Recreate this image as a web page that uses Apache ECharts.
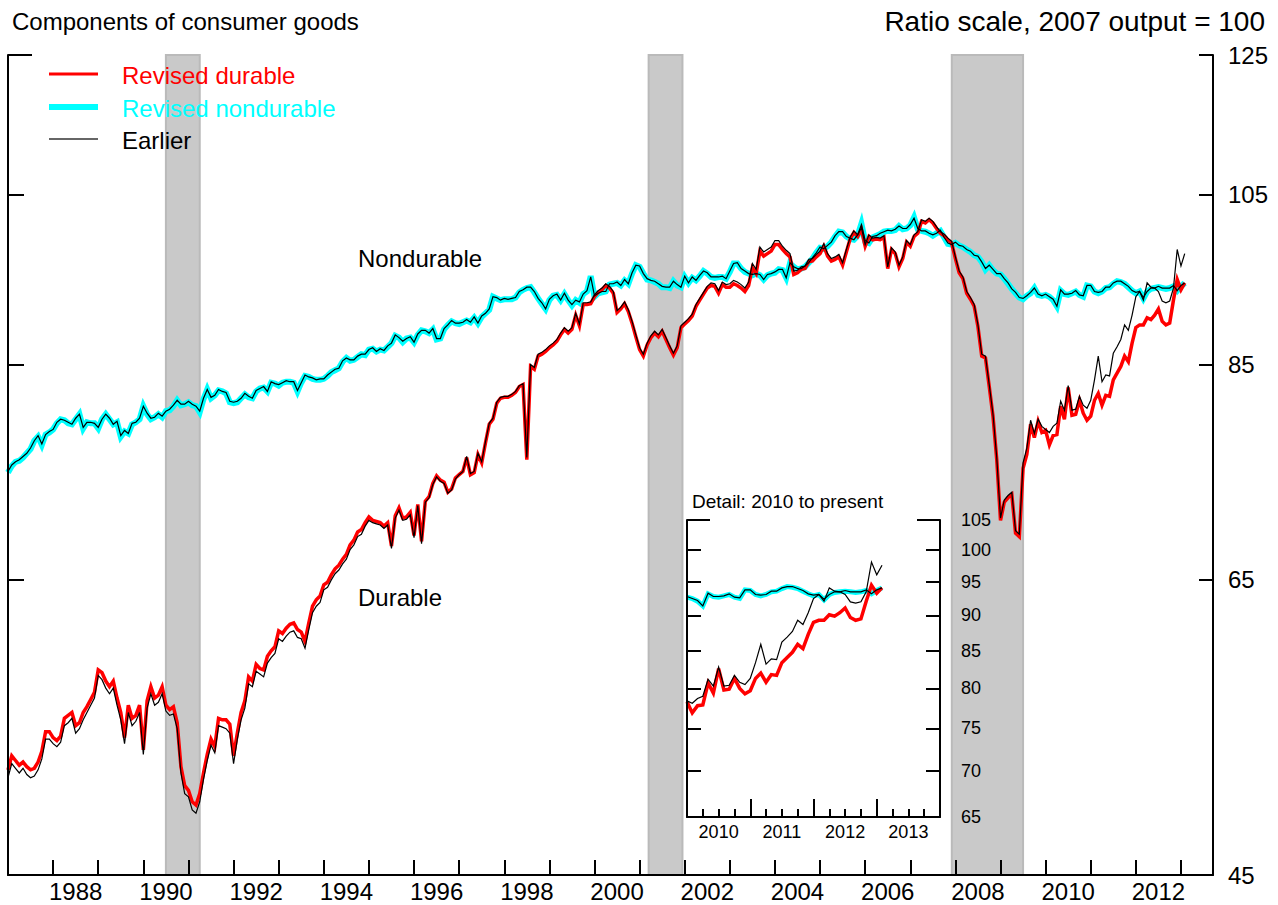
<!DOCTYPE html>
<html>
<head>
<meta charset="utf-8">
<script src="https://cdn.jsdelivr.net/npm/echarts@6/dist/echarts.min.js"></script>
<style>
html,body{margin:0;padding:0;background:#fff;}
#chart{width:1278px;height:905px;}
</style>
</head>
<body>
<div id="chart"></div>
<script>
// Monthly data, first value = January 1987, last value = February 2013 (index, 2007 output = 100)
const START_YEAR = 1987;

const durableRevised = [
  51.3, 52.2, 51.9, 51.6, 51.8, 51.5, 51.3, 51.4, 51.8, 52.5, 53.8, 53.8, // 1987
  53.4, 53.2, 53.5, 54.7, 54.9, 55.1, 54.2, 54.4, 55.1, 55.5, 56.0, 56.5, // 1988
  58.1, 57.9, 57.3, 56.9, 57.3, 56.1, 55.1, 53.4, 55.6, 54.7, 54.9, 55.6, // 1989
  52.6, 55.9, 56.9, 56.1, 56.3, 56.9, 55.6, 55.3, 55.5, 54.4, 51.5, 50.3, // 1990
  50.0, 49.3, 49.1, 49.8, 51.1, 52.3, 53.3, 52.8, 54.7, 54.6, 54.6, 54.3, // 1991
  52.2, 53.7, 55.1, 55.9, 57.6, 57.3, 58.5, 58.2, 58.1, 59.1, 59.5, 59.8, // 1992
  61.0, 60.8, 61.2, 61.5, 61.6, 61.1, 60.9, 60.2, 61.6, 62.9, 63.4, 63.7, // 1993
  64.6, 64.8, 65.4, 65.9, 66.2, 66.7, 67.1, 67.9, 68.3, 69.0, 69.2, 69.8, // 1994
  70.3, 70.0, 69.9, 69.8, 69.5, 69.8, 67.8, 70.4, 71.1, 70.2, 70.3, 70.7, // 1995
  68.7, 71.4, 68.2, 71.7, 72.1, 73.3, 74.0, 73.6, 73.4, 72.5, 72.8, 73.8, // 1996
  74.1, 74.4, 75.7, 74.1, 74.3, 76.0, 75.2, 77.1, 78.9, 79.4, 81.0, 81.5, // 1997
  81.6, 81.6, 81.8, 82.1, 82.7, 82.9, 75.5, 84.8, 84.5, 85.9, 86.1, 86.4, // 1998
  86.8, 87.1, 87.5, 88.2, 88.8, 88.4, 88.8, 90.4, 89.2, 91.6, 91.6, 91.7, // 1999
  92.5, 93.0, 93.3, 93.8, 93.5, 92.9, 90.7, 91.1, 91.7, 90.8, 89.5, 88.0, // 2000
  86.6, 85.9, 87.1, 87.9, 88.4, 88.0, 88.6, 87.7, 86.8, 86.0, 86.8, 89.0, // 2001
  89.4, 89.8, 90.3, 91.4, 92.1, 92.8, 93.5, 93.8, 93.7, 92.9, 93.9, 93.6, // 2002
  93.6, 94.0, 93.8, 93.5, 93.1, 93.8, 95.9, 95.2, 97.9, 97.3, 97.6, 97.9, // 2003
  98.7, 98.7, 98.1, 97.6, 97.2, 95.1, 95.3, 95.7, 95.8, 96.6, 96.7, 97.2, // 2004
  97.6, 98.5, 97.3, 96.7, 96.9, 97.2, 96.2, 97.8, 99.4, 100.2, 99.7, 100.6, // 2005
  98.5, 99.7, 99.3, 99.4, 99.3, 99.6, 95.8, 98.1, 97.6, 96.0, 97.0, 99.0, // 2006
  98.5, 99.7, 100.1, 101.6, 101.4, 101.8, 101.4, 100.7, 100.1, 99.8, 99.3, 98.9, // 2007
  97.0, 95.3, 94.6, 92.9, 92.2, 91.4, 89.1, 85.9, 85.7, 82.7, 79.7, 75.5, // 2008
  70.0, 71.6, 72.0, 72.3, 68.9, 68.6, 74.7, 76.0, 78.9, 77.6, 79.2, 78.1, // 2009
  78.3, 76.9, 77.8, 77.9, 80.7, 79.4, 82.6, 79.8, 79.9, 81.3, 80.0, 79.3, // 2010
  79.7, 81.3, 82.0, 80.8, 81.8, 81.7, 83.4, 84.1, 84.8, 85.9, 85.3, 87.3, // 2011
  89.0, 89.3, 89.3, 90.1, 89.9, 90.4, 91.1, 89.7, 89.3, 89.5, 92.1, 94.5, // 2012
  93.3, 94.1 // 2013
];

const nondurableRevised = [
  74.3, 74.9, 75.3, 75.4, 75.7, 76.1, 76.5, 77.3, 77.7, 76.9, 77.9, 78.1, // 1987
  78.4, 79.0, 79.4, 79.3, 79.0, 78.9, 79.4, 79.9, 78.5, 79.1, 79.0, 79.0, // 1988
  78.5, 79.4, 79.9, 79.4, 78.9, 79.1, 77.7, 78.2, 78.0, 78.9, 79.1, 79.4, // 1989
  80.7, 79.9, 79.4, 79.6, 79.9, 79.6, 80.2, 80.3, 80.7, 81.3, 80.8, 80.9, // 1990
  81.1, 80.8, 80.7, 80.1, 81.4, 82.4, 81.5, 81.8, 82.3, 82.2, 82.0, 81.1, // 1991
  81.0, 81.1, 81.5, 81.9, 81.6, 81.5, 82.2, 82.5, 82.6, 82.2, 83.1, 83.0, // 1992
  82.8, 83.1, 83.2, 83.2, 83.1, 82.2, 83.1, 83.8, 83.7, 83.5, 83.4, 83.4, // 1993
  83.5, 83.8, 84.2, 84.4, 84.6, 85.3, 85.7, 85.4, 85.5, 85.8, 86.1, 86.0, // 1994
  86.6, 86.7, 86.4, 86.6, 86.5, 86.9, 87.3, 88.1, 87.9, 87.4, 87.8, 87.9, // 1995
  87.4, 88.2, 88.7, 88.6, 88.4, 88.8, 87.7, 87.8, 88.8, 89.3, 89.7, 89.5, // 1996
  89.4, 89.6, 89.8, 89.6, 90.1, 89.5, 90.2, 90.6, 91.0, 92.5, 92.3, 92.1, // 1997
  92.2, 92.2, 92.2, 92.4, 93.0, 93.3, 93.5, 93.6, 93.0, 92.3, 91.7, 91.1, // 1998
  92.1, 92.6, 92.7, 92.1, 92.8, 92.1, 91.5, 92.1, 91.8, 92.8, 93.1, 94.9, // 1999
  92.5, 92.9, 93.0, 93.1, 93.9, 94.0, 94.1, 93.8, 94.4, 94.0, 95.2, 96.2, // 2000
  96.0, 95.2, 94.5, 94.4, 94.2, 94.0, 93.6, 93.6, 93.5, 94.3, 93.8, 93.6, // 2001
  94.8, 94.1, 94.7, 94.4, 94.9, 95.5, 95.2, 94.8, 94.7, 94.8, 94.8, 94.6, // 2002
  95.4, 96.4, 96.4, 95.8, 95.4, 95.2, 95.0, 95.2, 95.0, 94.5, 95.0, 95.2, // 2003
  95.3, 95.7, 95.6, 94.7, 96.4, 96.0, 95.7, 95.8, 96.0, 96.5, 97.0, 97.7, // 2004
  98.3, 98.2, 98.5, 99.0, 99.7, 100.3, 100.2, 99.7, 99.4, 99.3, 99.8, 101.3, // 2005
  99.1, 98.9, 99.6, 99.8, 100.0, 100.3, 100.4, 100.4, 100.5, 101.0, 100.6, 100.7, // 2006
  101.1, 102.1, 100.6, 100.4, 100.3, 100.1, 99.8, 100.1, 100.4, 99.6, 98.8, 98.7, // 2007
  98.9, 98.6, 98.4, 98.1, 97.8, 97.4, 97.2, 96.6, 95.7, 96.2, 95.6, 95.2, // 2008
  95.1, 94.6, 94.0, 93.4, 92.9, 92.4, 92.2, 92.6, 92.9, 93.5, 92.7, 92.6, // 2009
  92.7, 92.5, 92.1, 91.4, 93.2, 92.8, 92.7, 92.9, 93.1, 92.7, 92.5, 93.8, // 2010
  93.7, 93.1, 92.9, 93.1, 93.5, 93.6, 94.0, 94.3, 94.2, 94.0, 93.6, 93.2, // 2011
  92.9, 93.1, 92.3, 93.1, 93.4, 93.5, 93.6, 93.5, 93.4, 93.5, 93.7, 93.2, // 2012
  93.7, 94.1 // 2013
];

const durableEarlier = [
  50.8, 51.7, 51.4, 51.1, 51.4, 51.0, 50.8, 50.9, 51.3, 52.0, 53.3, 53.3, // 1987
  53.0, 52.8, 53.1, 54.2, 54.4, 54.7, 53.7, 54.0, 54.6, 55.1, 55.6, 56.1, // 1988
  57.7, 57.4, 56.8, 56.4, 56.8, 55.6, 54.6, 53.0, 55.1, 54.2, 54.5, 55.1, // 1989
  52.3, 55.4, 56.4, 55.6, 55.8, 56.4, 55.2, 54.9, 55.0, 54.0, 51.1, 49.8, // 1990
  49.6, 48.8, 48.6, 49.3, 50.7, 51.9, 52.9, 52.4, 54.2, 54.1, 54.0, 53.7, // 1991
  51.7, 53.3, 54.6, 55.4, 57.1, 56.9, 58.0, 57.8, 57.6, 58.6, 59.0, 59.3, // 1992
  60.4, 60.2, 60.6, 60.9, 61.0, 60.5, 60.4, 59.7, 61.1, 62.4, 62.9, 63.2, // 1993
  64.2, 64.4, 65.0, 65.5, 65.8, 66.3, 66.7, 67.5, 67.9, 68.6, 68.8, 69.5, // 1994
  70.0, 69.8, 69.7, 69.6, 69.3, 69.6, 67.6, 70.2, 70.9, 70.0, 70.1, 70.5, // 1995
  68.5, 71.3, 68.0, 71.6, 72.0, 73.2, 73.9, 73.5, 73.3, 72.4, 72.7, 73.7, // 1996
  74.1, 74.4, 75.8, 74.2, 74.4, 76.1, 75.3, 77.2, 79.0, 79.5, 81.1, 81.6, // 1997
  81.7, 81.7, 81.9, 82.2, 82.8, 83.0, 75.7, 85.0, 84.7, 86.1, 86.3, 86.6, // 1998
  87.0, 87.3, 87.7, 88.4, 89.0, 88.6, 89.0, 90.6, 89.4, 91.8, 91.8, 91.9, // 1999
  92.7, 93.2, 93.5, 94.0, 93.7, 93.1, 90.9, 91.3, 91.9, 91.0, 89.7, 88.2, // 2000
  86.8, 86.1, 87.3, 88.1, 88.6, 88.2, 88.8, 87.9, 87.0, 86.2, 87.0, 89.2, // 2001
  89.6, 90.0, 90.5, 91.6, 92.3, 93.0, 93.7, 94.1, 94.0, 93.2, 94.2, 93.9, // 2002
  94.0, 94.4, 94.2, 93.9, 93.5, 94.2, 96.4, 95.7, 98.4, 97.8, 98.1, 98.4, // 2003
  99.2, 99.2, 98.5, 98.0, 97.6, 95.5, 95.6, 96.0, 96.1, 96.9, 97.0, 97.5, // 2004
  97.9, 98.8, 97.6, 97.0, 97.2, 97.5, 96.5, 98.1, 99.6, 100.4, 99.9, 100.8, // 2005
  98.7, 99.9, 99.5, 99.6, 99.5, 99.8, 96.0, 98.3, 97.8, 96.2, 97.2, 99.2, // 2006
  98.7, 99.9, 100.3, 101.8, 101.6, 102.0, 101.6, 100.9, 100.3, 100.0, 99.5, 99.1, // 2007
  97.2, 95.5, 94.8, 93.1, 92.4, 91.6, 89.3, 86.1, 85.9, 82.9, 79.9, 75.7, // 2008
  70.2, 71.8, 72.2, 72.5, 69.1, 68.8, 75.2, 76.6, 79.3, 78.0, 79.4, 78.7, // 2009
  78.4, 78.1, 78.7, 79.0, 81.2, 80.3, 82.8, 80.3, 80.4, 81.7, 80.8, 80.5, // 2010
  81.3, 83.4, 85.9, 83.2, 83.9, 83.8, 86.2, 86.9, 87.7, 89.3, 88.7, 90.4, // 2011
  92.5, 93.1, 92.1, 94.1, 93.6, 93.5, 93.1, 92.0, 91.8, 92.0, 93.5, 98.1, // 2012
  96.1, 97.6 // 2013
];

const nondurableEarlier = [
  74.4, 75.0, 75.3, 75.5, 75.8, 76.1, 76.6, 77.3, 77.8, 77.0, 77.9, 78.2, // 1987
  78.4, 79.1, 79.4, 79.3, 79.1, 78.9, 79.5, 79.9, 78.6, 79.1, 79.1, 79.0, // 1988
  78.6, 79.4, 79.9, 79.5, 78.9, 79.2, 77.8, 78.3, 78.0, 79.0, 79.1, 79.5, // 1989
  80.7, 80.0, 79.5, 79.6, 80.0, 79.7, 80.2, 80.4, 80.8, 81.3, 80.9, 80.9, // 1990
  81.2, 80.9, 80.7, 80.2, 81.5, 82.4, 81.6, 81.8, 82.4, 82.2, 82.1, 81.2, // 1991
  81.1, 81.2, 81.5, 82.0, 81.7, 81.5, 82.3, 82.5, 82.7, 82.2, 83.2, 83.0, // 1992
  82.9, 83.1, 83.3, 83.2, 83.2, 82.3, 83.1, 83.9, 83.7, 83.6, 83.4, 83.5, // 1993
  83.5, 83.9, 84.2, 84.5, 84.6, 85.4, 85.7, 85.5, 85.5, 85.9, 86.1, 86.1, // 1994
  86.6, 86.8, 86.4, 86.7, 86.5, 87.0, 87.3, 88.2, 87.9, 87.5, 87.8, 88.0, // 1995
  87.4, 88.3, 88.7, 88.7, 88.4, 88.9, 87.8, 87.8, 88.9, 89.3, 89.8, 89.5, // 1996
  89.5, 89.6, 89.9, 89.6, 90.2, 89.5, 90.3, 90.6, 91.1, 92.5, 92.4, 92.1, // 1997
  92.3, 92.2, 92.3, 92.4, 93.1, 93.3, 93.6, 93.6, 93.1, 92.3, 91.8, 91.1, // 1998
  92.2, 92.6, 92.8, 92.1, 92.9, 92.1, 91.6, 92.1, 91.9, 92.8, 93.2, 94.8, // 1999
  92.6, 92.9, 93.1, 93.1, 94.0, 94.0, 94.2, 93.8, 94.5, 94.0, 95.3, 96.2, // 2000
  96.1, 95.2, 94.6, 94.4, 94.3, 94.0, 93.7, 93.6, 93.6, 94.3, 93.9, 93.6, // 2001
  94.9, 94.1, 94.8, 94.4, 95.0, 95.5, 95.3, 94.8, 94.8, 94.8, 94.9, 94.6, // 2002
  95.5, 96.4, 96.5, 95.8, 95.5, 95.2, 95.1, 95.2, 95.1, 94.5, 95.1, 95.2, // 2003
  95.4, 95.7, 95.7, 94.7, 96.5, 96.0, 95.8, 95.8, 96.1, 96.5, 97.1, 97.7, // 2004
  98.4, 98.2, 98.6, 99.0, 99.8, 100.3, 100.3, 99.7, 99.5, 99.3, 99.9, 101.2, // 2005
  99.2, 98.9, 99.7, 99.8, 100.1, 100.3, 100.5, 100.4, 100.6, 101.0, 100.7, 100.7, // 2006
  101.2, 102.0, 100.7, 100.4, 100.4, 100.1, 99.9, 100.1, 100.5, 99.6, 98.9, 98.7, // 2007
  99.0, 98.6, 98.5, 98.1, 97.9, 97.4, 97.3, 96.6, 95.8, 96.2, 95.7, 95.2, // 2008
  95.2, 94.6, 94.1, 93.4, 93.0, 92.4, 92.3, 92.6, 93.0, 93.5, 92.8, 92.6, // 2009
  92.8, 92.5, 92.2, 91.4, 93.3, 92.8, 92.8, 92.9, 93.2, 92.7, 92.6, 93.8, // 2010
  93.8, 93.1, 93.0, 93.1, 93.6, 93.6, 94.1, 94.3, 94.3, 94.0, 93.7, 93.2, // 2011
  93.0, 93.1, 92.4, 93.1, 93.5, 93.5, 93.7, 93.5, 93.5, 93.5, 93.8, 93.2, // 2012
  93.8, 94.1 // 2013
];

// Axis tick values and labels
const mainTickValues = [45, 65, 85, 105, 125];
const insetTickValues = [65, 70, 75, 80, 85, 90, 95, 100, 105];
const mainYearLabels = [1988, 1990, 1992, 1994, 1996, 1998, 2000, 2002, 2004, 2006, 2008, 2010, 2012];
const mainYearTicks = [1988, 1989, 1990, 1991, 1992, 1993, 1994, 1995, 1996, 1997, 1998, 1999, 2000,
  2001, 2002, 2003, 2004, 2005, 2006, 2007, 2008, 2009, 2010, 2011, 2012, 2013];
const insetYearLabels = [2010, 2011, 2012, 2013];
// Recession periods (fractional years)
const recessions = [[1990.5, 1991.25], [2001.2, 2001.95], [2007.92, 2009.5]];
const INSET_START_YEAR = 2010;

const FONT = "'Liberation Sans', Arial, Helvetica, sans-serif";

function toPoints(arr, fromYear) {
  const out = [];
  for (let i = 0; i < arr.length; i++) {
    const t = START_YEAR + i / 12;
    if (fromYear !== undefined && t < fromYear - 1e-9) continue;
    out.push([t, Math.log(arr[i])]);
  }
  return out;
}
const fmtYear = v => String(Math.floor(v + 1e-6));
const fmtLog = v => String(Math.round(Math.exp(v)));

// Layout
const MAIN = { left: 8, top: 55, width: 1205, height: 820 };
const INSET = { left: 687, top: 520, width: 253, height: 297 };

const axisLineStyle = { color: '#000', width: 2 };

const chart = echarts.init(document.getElementById('chart'), null, { renderer: 'svg', width: 1278, height: 905 });

function lineSeries(name, data, xi, yi, color, width, z, extra) {
  return Object.assign({
    name: name, type: 'line', xAxisIndex: xi, yAxisIndex: yi, data: data,
    symbol: 'none', showSymbol: false, silent: true, animation: false, z: z,
    lineStyle: { color: color, width: width, join: 'miter', cap: 'butt' }
  }, extra || {});
}

const option = {
  animation: false,
  backgroundColor: '#fff',
  textStyle: { fontFamily: FONT },
  grid: [
    { left: MAIN.left, top: MAIN.top, width: MAIN.width, height: MAIN.height, containLabel: false },
    { left: INSET.left, top: INSET.top, width: INSET.width, height: INSET.height, containLabel: false }
  ],
  xAxis: [
    {
      type: 'value', gridIndex: 0, min: 1987, max: 2013.71, interval: 1, z: 6,
      axisLine: { onZero: false, lineStyle: axisLineStyle },
      axisTick: { inside: true, length: 15, lineStyle: axisLineStyle, customValues: mainYearTicks },
      axisLabel: { customValues: mainYearLabels.map(y => y + 0.5), formatter: fmtYear,
        fontSize: 24, color: '#000', fontFamily: FONT, margin: 4 },
      splitLine: { show: false }
    },
    {
      type: 'value', gridIndex: 1, min: 2010, max: 2014, interval: 1, z: 6,
      axisLine: { onZero: false, lineStyle: axisLineStyle },
      axisTick: { inside: true, length: 18, lineStyle: axisLineStyle },
      minorTick: { show: true, splitNumber: 4, length: 8, lineStyle: axisLineStyle },
      axisLabel: { customValues: insetYearLabels.map(y => y + 0.5), formatter: fmtYear,
        fontSize: 18, color: '#000', fontFamily: FONT, margin: 6 },
      splitLine: { show: false }, minorSplitLine: { show: false }
    }
  ],
  yAxis: [
    {
      type: 'value', gridIndex: 0, position: 'left', min: Math.log(45), max: Math.log(125), z: 6,
      axisLine: { show: true, onZero: false, lineStyle: axisLineStyle },
      axisTick: { show: true, inside: true, length: 16, lineStyle: axisLineStyle, customValues: mainTickValues.map(Math.log) },
      axisLabel: { show: false },
      splitLine: { show: false }
    },
    {
      type: 'value', gridIndex: 0, position: 'right', min: Math.log(45), max: Math.log(125), z: 6,
      axisLine: { show: true, onZero: false, lineStyle: axisLineStyle },
      axisTick: { show: true, inside: true, length: 14, lineStyle: axisLineStyle, customValues: mainTickValues.map(Math.log) },
      axisLabel: { show: true, customValues: mainTickValues.map(Math.log), formatter: fmtLog,
        fontSize: 24, color: '#000', fontFamily: FONT, margin: 15 },
      splitLine: { show: false }
    },
    {
      type: 'value', gridIndex: 1, position: 'left', min: Math.log(65), max: Math.log(105), z: 6,
      axisLine: { show: true, onZero: false, lineStyle: axisLineStyle },
      axisTick: { show: true, inside: true, length: 14, lineStyle: axisLineStyle, customValues: insetTickValues.map(Math.log) },
      axisLabel: { show: false },
      splitLine: { show: false }
    },
    {
      type: 'value', gridIndex: 1, position: 'right', min: Math.log(65), max: Math.log(105), z: 6,
      axisLine: { show: true, onZero: false, lineStyle: axisLineStyle },
      axisTick: { show: true, inside: true, length: 14, lineStyle: axisLineStyle, customValues: insetTickValues.map(Math.log) },
      axisLabel: { show: true, customValues: insetTickValues.map(Math.log), formatter: fmtLog,
        fontSize: 18, color: '#000', fontFamily: FONT, margin: 21 },
      splitLine: { show: false }
    }
  ],
  series: [
    lineSeries('Revised nondurable', toPoints(nondurableRevised), 0, 0, '#00ffff', 6, 2, {
      markArea: {
        silent: true,
        itemStyle: { color: '#c9c9c9', borderColor: '#bababa', borderWidth: 2 },
        data: recessions.map(r => [{ xAxis: r[0] }, { xAxis: r[1] }])
      }
    }),
    lineSeries('Revised durable', toPoints(durableRevised), 0, 0, '#ff0000', 3.5, 3),
    lineSeries('Earlier durable', toPoints(durableEarlier), 0, 0, '#000000', 1.2, 4),
    lineSeries('Earlier nondurable', toPoints(nondurableEarlier), 0, 0, '#000000', 1.2, 4),
    lineSeries('Inset revised nondurable', toPoints(nondurableRevised, INSET_START_YEAR), 1, 2, '#00ffff', 5, 2),
    lineSeries('Inset revised durable', toPoints(durableRevised, INSET_START_YEAR), 1, 2, '#ff0000', 3.5, 3),
    lineSeries('Inset earlier durable', toPoints(durableEarlier, INSET_START_YEAR), 1, 2, '#000000', 1.2, 4),
    lineSeries('Inset earlier nondurable', toPoints(nondurableEarlier, INSET_START_YEAR), 1, 2, '#000000', 1.2, 4)
  ],
  graphic: [
    { type: 'text', x: 12, y: 21, z: 10, style: { text: 'Components of consumer goods', fontSize: 24, fontFamily: FONT, fill: '#000', align: 'left', verticalAlign: 'middle' } },
    { type: 'text', x: 1265, y: 21, z: 10, style: { text: 'Ratio scale, 2007 output = 100', fontSize: 28, fontFamily: FONT, fill: '#000', align: 'right', verticalAlign: 'middle' } },
    // legend
    { type: 'line', z: 10, shape: { x1: 49, y1: 74, x2: 98, y2: 74 }, style: { stroke: '#ff0000', lineWidth: 3 } },
    { type: 'line', z: 10, shape: { x1: 49, y1: 107, x2: 98, y2: 107 }, style: { stroke: '#00ffff', lineWidth: 6 } },
    { type: 'line', z: 10, shape: { x1: 49, y1: 139, x2: 98, y2: 139 }, style: { stroke: '#333333', lineWidth: 1.3 } },
    { type: 'text', x: 122, y: 75, z: 10, style: { text: 'Revised durable', fontSize: 24, fontFamily: FONT, fill: '#ff0000', verticalAlign: 'middle' } },
    { type: 'text', x: 122, y: 108, z: 10, style: { text: 'Revised nondurable', fontSize: 24, fontFamily: FONT, fill: '#00ffff', verticalAlign: 'middle' } },
    { type: 'text', x: 122, y: 140, z: 10, style: { text: 'Earlier', fontSize: 24, fontFamily: FONT, fill: '#000', verticalAlign: 'middle' } },
    // series annotations
    { type: 'text', x: 358, y: 258, z: 10, style: { text: 'Nondurable', fontSize: 24, fontFamily: FONT, fill: '#000', verticalAlign: 'middle' } },
    { type: 'text', x: 358, y: 597, z: 10, style: { text: 'Durable', fontSize: 24, fontFamily: FONT, fill: '#000', verticalAlign: 'middle' } },
    // inset title
    { type: 'text', x: 692, y: 501, z: 10, style: { text: 'Detail: 2010 to present', fontSize: 19, fontFamily: FONT, fill: '#000', verticalAlign: 'middle' } },
    // longer top ticks
    { type: 'line', z: 10, shape: { x1: MAIN.left, y1: MAIN.top, x2: MAIN.left + 24, y2: MAIN.top }, style: { stroke: '#000', lineWidth: 2 } },
    { type: 'line', z: 10, shape: { x1: INSET.left, y1: INSET.top, x2: INSET.left + 23, y2: INSET.top }, style: { stroke: '#000', lineWidth: 2 } },
    { type: 'line', z: 10, shape: { x1: INSET.left + INSET.width - 23, y1: INSET.top, x2: INSET.left + INSET.width, y2: INSET.top }, style: { stroke: '#000', lineWidth: 2 } }
  ]
};

chart.setOption(option);
</script>
</body>
</html>
